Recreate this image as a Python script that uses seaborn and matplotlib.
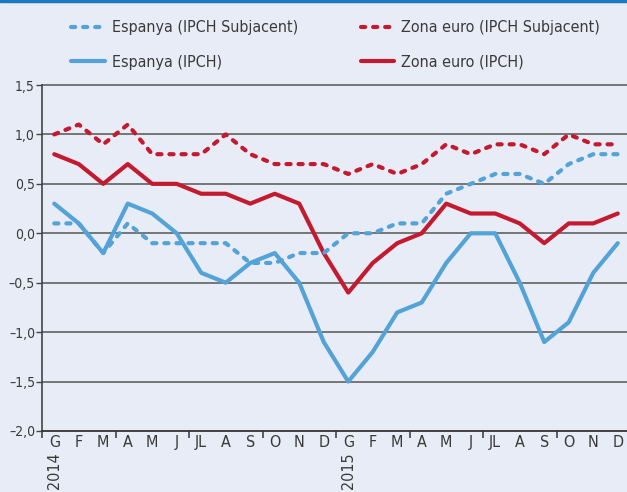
import numpy as np
import pandas as pd
import matplotlib
matplotlib.use("Agg")
import matplotlib.pyplot as plt
import seaborn as sns
from matplotlib.lines import Line2D

# month labels (catalan initials), two years
months = ["G", "F", "M", "A", "M", "J", "JL", "A", "S", "O", "N", "D"] * 2
years = ["2014", "2015"]

esp_core = [0.1, 0.1, -0.2, 0.1, -0.1, -0.1, -0.1, -0.1, -0.3, -0.3, -0.2, -0.2,
            0.0, 0.0, 0.1, 0.1, 0.4, 0.5, 0.6, 0.6, 0.5, 0.7, 0.8, 0.8]
esp_hicp = [0.3, 0.1, -0.2, 0.3, 0.2, 0.0, -0.4, -0.5, -0.3, -0.2, -0.5, -1.1,
            -1.5, -1.2, -0.8, -0.7, -0.3, 0.0, 0.0, -0.5, -1.1, -0.9, -0.4, -0.1]
ez_core = [1.0, 1.1, 0.9, 1.1, 0.8, 0.8, 0.8, 1.0, 0.8, 0.7, 0.7, 0.7,
           0.6, 0.7, 0.6, 0.7, 0.9, 0.8, 0.9, 0.9, 0.8, 1.0, 0.9, 0.9]
ez_hicp = [0.8, 0.7, 0.5, 0.7, 0.5, 0.5, 0.4, 0.4, 0.3, 0.4, 0.3, -0.2,
           -0.6, -0.3, -0.1, 0.0, 0.3, 0.2, 0.2, 0.1, -0.1, 0.1, 0.1, 0.2]
yticks = [1.5, 1.0, 0.5, 0.0, -0.5, -1.0, -1.5, -2.0]

blue = "#54a3d6"
red = "#c41a30"
bg = "#e8ecf6"
txt = "#3a3a3a"

sns.set_theme(style="white")
plt.rcParams['font.family'] = ['DejaVu Sans']
plt.rcParams['font.stretch'] = 'condensed'

x = np.arange(len(months))
df = pd.DataFrame({"x": x, "esp_core": esp_core, "esp_hicp": esp_hicp,
                   "ez_core": ez_core, "ez_hicp": ez_hicp})

fig = plt.figure(figsize=(6.27, 4.92), dpi=100)
fig.patch.set_facecolor(bg)
ax = fig.add_axes([42 / 627, 61 / 492, 588 / 627, 346 / 492])
ax.set_facecolor(bg)

# gridlines
for v in yticks[:-1]:
    ax.axhline(v, color="#555555", lw=1.1, zorder=1, clip_on=False)

dpat = (1.0, 1.9)
lw = 3.0
sns.lineplot(data=df, x="x", y="esp_hicp", color=blue, lw=lw, ax=ax, zorder=3)
sns.lineplot(data=df, x="x", y="ez_hicp", color=red, lw=lw, ax=ax, zorder=3)
sns.lineplot(data=df, x="x", y="esp_core", color=blue, lw=lw, ax=ax, zorder=3)
ax.lines[-1].set_dashes(dpat); ax.lines[-1].set_dash_capstyle("round")
sns.lineplot(data=df, x="x", y="ez_core", color=red, lw=lw, ax=ax, zorder=3)
ax.lines[-1].set_dashes(dpat); ax.lines[-1].set_dash_capstyle("round")

ax.set_xlim(-0.5, 23.5)
ax.set_ylim(-2.0, 1.5)
ax.set_xlabel("")
ax.set_ylabel("")

for s in ["top", "right"]:
    ax.spines[s].set_visible(False)
ax.spines["left"].set_color("#444444")
ax.spines["left"].set_linewidth(1.2)
ax.spines["bottom"].set_color("#333333")
ax.spines["bottom"].set_linewidth(1.3)

ax.set_yticks(yticks)
ax.set_yticklabels([f"{v:.1f}".replace(".", ",").replace("-", "\u2013") for v in yticks])
ax.tick_params(axis="y", left=True, length=4, width=1, color="#444444",
               labelsize=10, labelcolor=txt, pad=1)

ax.set_xticks(np.arange(-0.5, 24, 3))
ax.set_xticklabels([])
ax.set_xticks(x, minor=True)
ax.set_xticklabels(months, minor=True)
ax.tick_params(axis="x", which="major", bottom=True, length=5, width=1.2, color="#444444")
ax.tick_params(axis="x", which="minor", bottom=False, length=0, labelsize=11.5,
               labelcolor=txt, pad=3)

for i, yr in enumerate(years):
    ax.text(i * 12, -0.062, yr, transform=ax.get_xaxis_transform(), rotation=90,
            ha="center", va="top", fontsize=11.5, color=txt)

# top blue band
fig.add_artist(Line2D([0, 1], [0.998, 0.998], color="#1e78c0", lw=2.5,
                      transform=fig.transFigure))

handles = [
    Line2D([], [], color=blue, lw=lw, dashes=dpat, dash_capstyle="round"),
    Line2D([], [], color=blue, lw=lw),
    Line2D([], [], color=red, lw=lw, dashes=dpat, dash_capstyle="round"),
    Line2D([], [], color=red, lw=lw),
]
labels = ["Espanya (IPCH Subjacent)", "Espanya (IPCH)",
          "Zona euro (IPCH Subjacent)", "Zona euro (IPCH)"]
leg = fig.legend(handles, labels, ncol=2, loc="upper left",
                 bbox_to_anchor=(57 / 627, 1 - 6 / 492), frameon=False,
                 fontsize=11.5, handlelength=2.1, handletextpad=0.45,
                 columnspacing=3.9, labelspacing=1.2, labelcolor=txt)

fig.savefig("out.png", dpi=100, facecolor=bg)
